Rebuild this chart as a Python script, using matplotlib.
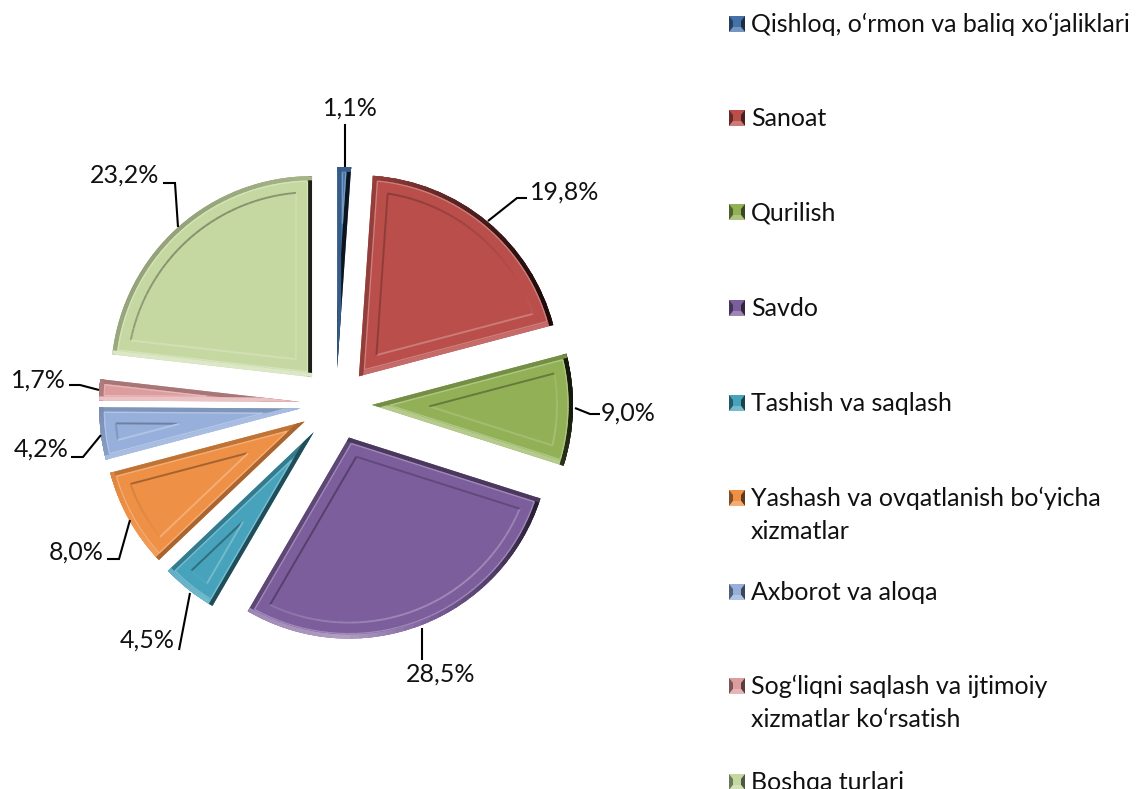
import numpy as np
import matplotlib
matplotlib.use("Agg")
import matplotlib.pyplot as plt
from matplotlib.collections import LineCollection
from matplotlib.colors import to_rgb
from matplotlib.patches import Polygon

# data
categories = ["Qishloq, o‘rmon va baliq xo‘jaliklari", "Sanoat", "Qurilish", "Savdo",
              "Tashish va saqlash", "Yashash va ovqatlanish bo‘yicha\nxizmatlar",
              "Axborot va aloqa", "Sog‘liqni saqlash va ijtimoiy\nxizmatlar ko‘rsatish",
              "Boshqa turlari"]
values = [1.1, 19.8, 9.0, 28.5, 4.5, 8.0, 4.2, 1.7, 23.2]
pct_labels = ["1,1%", "19,8%", "9,0%", "28,5%", "4,5%", "8,0%", "4,2%", "1,7%", "23,2%"]
colors = ["#4472A8", "#B94E4B", "#92B157", "#7B5E9B", "#47A3BC",
          "#EE9045", "#96B0DB", "#DD9C9D", "#C6D8A2"]

# layout, pixels from the top left of the picture
W, H = 1145, 789
label_pos = [(350, 108), (565, 192), (628, 413), (441, 674), (147, 640),
             (76, 552), (41, 449), (38, 380), (125, 175)]
leaders = [[(345, 124), (345, 167)],
           [(527, 198), (517, 198), (488, 221)],
           [(600, 414), (590, 414), (575, 408)],
           [(422, 660), (422, 628)],
           [(179, 650), (190, 593)],
           [(107, 559), (119, 559), (130, 520)],
           [(71, 457), (83, 457), (101, 435)],
           [(69, 385), (80, 385), (99, 390)],
           [(163, 183), (175, 183), (178, 227)]]
legend_y = [23, 117, 211, 307, 402, 497, 591, 685, 781]

BEVEL = 16
plt.rcParams["font.family"] = ["Lato", "DejaVu Sans"]


def py(y):
    return H - y


def tint(color, k):
    c = np.array(to_rgb(color))
    return tuple(c + (1 - c) * k) if k > 0 else tuple(c * (1 + k))


def rim_color(color, nx, ny):
    # right side nearly black, bottom side light, left and top a bit darker
    k = -max(nx, 0) * 0.85 + max(-ny, 0) * 0.4 - max(-nx, 0) * 0.2 - max(ny, 0) * 0.15
    return tint(color, k)


def inner_color(color, nx, ny):
    # the face is sunk in, so its top and left lines fall in shadow
    return tint(color, (nx * 0.5 - ny * 0.7) * 0.35 - 0.03)


def normals(pts):
    # outward normals of a counter clockwise outline
    d = np.roll(pts, -1, axis=0) - pts
    n = np.c_[d[:, 1], -d[:, 0]]
    return n / np.maximum(np.linalg.norm(n, axis=1, keepdims=True), 1e-9)


def segments(pts):
    return np.stack([pts, np.roll(pts, -1, axis=0)], axis=1)


def inset(w, b):
    # outline of wedge w moved inwards by b, None if nothing is left of it
    half = (w.theta2 - w.theta1) / 2
    gap = np.degrees(np.arcsin(b / (w.r - b)))
    if half <= gap:
        return None
    cx, cy = w.center
    mid = np.radians((w.theta1 + w.theta2) / 2)
    d = b / np.sin(np.radians(half))
    a = np.radians(np.linspace(w.theta1 + gap, w.theta2 - gap, 40))
    return np.vstack([[cx + d * np.cos(mid), cy + d * np.sin(mid)],
                      np.c_[cx + (w.r - b) * np.cos(a), cy + (w.r - b) * np.sin(a)]])


fig = plt.figure(figsize=(W / 100, H / 100), dpi=100)
ax = fig.add_axes([0, 0, 1, 1])

# explode is in data units here, so 36 px
wedges, _ = ax.pie(values, colors=colors, startangle=90, counterclock=False,
                   radius=201, center=(336, py(404)), explode=[36] * len(values))
ax.set_xlim(0, W)
ax.set_ylim(0, H)
ax.axis("off")

for w, col in zip(wedges, colors):
    w.set_linewidth(0)

    # outer rim of the bevel
    a = np.radians(np.linspace(w.theta1, w.theta2, 40))
    pts = np.vstack([w.center, np.c_[w.center[0] + w.r * np.cos(a), w.center[1] + w.r * np.sin(a)]])
    rim = LineCollection(segments(pts), linewidths=6, zorder=3, capstyle="round",
                         colors=[rim_color(col, *n) for n in normals(pts)])
    ax.add_collection(rim)
    rim.set_clip_path(w)

    # thin light ridge just inside the rim
    ridge = inset(w, 5)
    if ridge is not None:
        ax.add_collection(LineCollection(segments(ridge), linewidths=0.9, zorder=3,
                                         colors=[tint(col, 0.28)]))

    # recessed inner face, small slices have none
    inner = inset(w, BEVEL)
    if inner is not None:
        ax.add_collection(LineCollection(segments(inner), linewidths=1.4, zorder=4,
                                         colors=[inner_color(col, *n) for n in normals(inner)]))

# labels and leader lines
for txt, (x, y), line in zip(pct_labels, label_pos, leaders):
    ax.text(x, py(y), txt, fontsize=18, color="#111111", ha="center", va="center")
    ax.plot([p[0] for p in line], [py(p[1]) for p in line], color="black", lw=1.5,
            zorder=6, solid_capstyle="butt", solid_joinstyle="miter")

# legend, placed by hand because the spacing is uneven
for name, col, y in zip(categories, colors, legend_y):
    x0, x1, top, bot = 729, 745, py(y - 7), py(y + 9)
    ax.add_patch(Polygon([(x0, bot), (x1, bot), (x1, top), (x0, top)], fc=col, lw=0, zorder=3))
    ax.add_patch(Polygon([(x0, top), (x0 + 4, top - 5), (x0 + 4, bot + 5), (x0, bot)],
                         fc=tint(col, -0.45), lw=0, zorder=4))
    ax.add_patch(Polygon([(x1, top), (x1 - 4, top - 5), (x1 - 4, bot + 5), (x1, bot)],
                         fc=tint(col, -0.6), lw=0, zorder=4))
    ax.add_patch(Polygon([(x0, bot), (x1, bot), (x1 - 4, bot + 5), (x0 + 4, bot + 5)],
                         fc=tint(col, 0.25), lw=0, zorder=4))
    ax.text(751, py(y - 10), name, fontsize=18, color="#111111", ha="left", va="top",
            linespacing=1.5)

fig.savefig("out.png", dpi=100)
